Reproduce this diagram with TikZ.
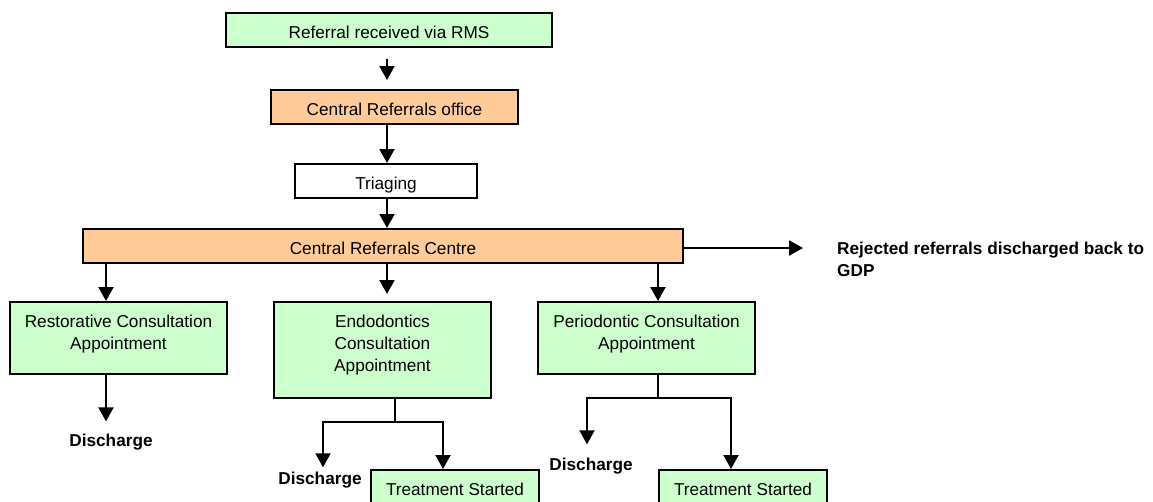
\documentclass[tikz,border=0pt]{standalone}
\usepackage{fontspec}
\setmainfont{Liberation Sans}
\usetikzlibrary{arrows.meta,calc}
\definecolor{boxgreen}{HTML}{CCFFCC}
\definecolor{boxorange}{HTML}{FFCC99}
\begin{document}
\begin{tikzpicture}[x=1pt,y=-1pt,
  every node/.style={font=\fontsize{17.2}{22}\selectfont, inner sep=0pt},
  boxbase/.style={draw=black, line width=2pt, rectangle, inner sep=0pt, text height=17.3pt, text depth=0pt},
  greenbox/.style={boxbase, fill=boxgreen},
  orangebox/.style={boxbase, fill=boxorange},
  whitebox/.style={boxbase, fill=white},
  boxtext/.style={align=center, anchor=north},
  boldlabel/.style={font=\fontsize{17.2}{22}\selectfont\bfseries},
  arr/.style={line width=2pt, -{Triangle[length=14pt,width=15pt]}},
  conn/.style={line width=2pt}
]
\useasboundingbox (0,0) rectangle (1153,501);
\clip (0,0) rectangle (1153,501);

% boxes
\node[greenbox, minimum width=326pt, minimum height=34pt] (rms) at (389,30) {Referral received via RMS};
\node[orangebox, minimum width=247pt, minimum height=34pt] (office) at (394.5,107) {Central Referrals office};
\node[whitebox, minimum width=182pt, minimum height=34pt] (tri) at (386,181) {Triaging};
\node[orangebox, minimum width=600pt, minimum height=34pt] (centre) at (383,246) {Central Referrals Centre};

\node[greenbox, minimum width=217pt, minimum height=72pt] (rest) at (118.5,338) {};
\node[boxtext] (resttext) at ([yshift=-14pt]rest.north) {Restorative Consultation\\Appointment};
\node[greenbox, minimum width=217pt, minimum height=96pt] (endo) at (382.5,350) {};
\node[boxtext] (endotext) at ([yshift=-14pt]endo.north) {Endodontics\\Consultation\\Appointment};
\node[greenbox, minimum width=217pt, minimum height=72pt] (perio) at (646.5,338) {};
\node[boxtext] (periotext) at ([yshift=-14pt]perio.north) {Periodontic Consultation\\Appointment};

\node[greenbox, minimum width=168pt, minimum height=34pt] (treat1) at (455,487) {Treatment Started};
\node[greenbox, minimum width=168pt, minimum height=34pt] (treat2) at (743,487) {Treatment Started};

% labels
\node[boldlabel, anchor=base] (dis1) at (111,446) {Discharge};
\node[boldlabel, anchor=base] (dis2) at (320,484) {Discharge};
\node[boldlabel, anchor=base] (dis3) at (591,470) {Discharge};
\node[boldlabel, align=left, anchor=north west] (rej) at (837,241.5) {Rejected referrals discharged back to\\GDP};

% helper coordinates
\coordinate (mx) at (387,0);
\coordinate (rx) at (106,0);
\coordinate (px) at (658,0);
\coordinate (ej) at (395,422);
\coordinate (e1) at (323,0);
\coordinate (e2) at (443,0);
\coordinate (pj) at (658,398);
\coordinate (p1) at (587,0);
\coordinate (p2) at (731,0);

% connectors
\draw[arr, shorten <=11pt, shorten >=9pt] (rms.south -| mx) -- (office.north -| mx);
\draw[arr] (office.south -| mx) -- (tri.north -| mx);
\draw[arr] (tri.south -| mx) -- (centre.north -| mx);
\draw[arr] (centre.south -| rx) -- (rest.north -| rx);
\draw[arr, shorten >=7pt] (centre.south -| mx) -- (endo.north -| mx);
\draw[arr] (centre.south -| px) -- (perio.north -| px);
\draw[arr, shorten >=34pt] ([yshift=-2pt]centre.east) -- ([yshift=-2pt]centre.east -| rej.west);

\draw[arr, shorten >=12pt] (rest.south -| rx) -- (dis1.north -| rx);

\draw[conn] (endo.south -| ej) -- (ej);
\draw[arr, shorten >=4pt] (ej) -| (dis2.north -| e1);
\draw[arr] (ej) -| (treat1.north -| e2);

\draw[conn] (perio.south -| pj) -- (pj);
\draw[arr, shorten >=13pt] (pj) -| (dis3.north -| p1);
\draw[arr] (pj) -| (treat2.north -| p2);
\end{tikzpicture}
\end{document}
